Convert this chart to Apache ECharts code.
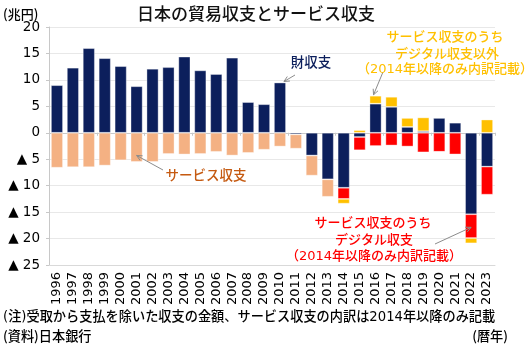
<!DOCTYPE html>
<html>
<head>
<meta charset="utf-8">
<script src="https://cdn.jsdelivr.net/npm/echarts@6/dist/echarts.min.js"></script>
<style>
  html, body { margin: 0; padding: 0; background: #fff; }
  #chart { width: 530px; height: 346px; }
</style>
</head>
<body>
<div id="chart"></div>
<script>
// Japan: goods trade balance and services balance (trillion yen, calendar year)
const years = ['1996','1997','1998','1999','2000','2001','2002','2003','2004','2005',
               '2006','2007','2008','2009','2010','2011','2012','2013','2014','2015',
               '2016','2017','2018','2019','2020','2021','2022','2023'];

// 財収支 (goods balance)
const goodsBalance = [9.0, 12.3, 16.0, 14.1, 12.6, 8.8, 12.1, 12.4, 14.4, 11.8,
                      11.1, 14.2, 5.8, 5.4, 9.5, -0.3, -4.3, -8.8, -10.4, -0.8,
                      5.5, 4.9, 1.1, 0.3, 2.8, 1.9, -15.4, -6.4];

// サービス収支 (total, shown up to 2013)
const servicesBalance = [-6.6, -6.5, -6.5, -6.2, -5.2, -5.5, -5.5, -4.0, -4.1, -4.0,
                         -3.6, -4.3, -3.8, -3.2, -2.6, -2.7, -3.8, -3.3, null, null,
                         null, null, null, null, null, null, null, null];

// サービス収支のうちデジタル収支 (from 2014)
const digitalBalance = [null, null, null, null, null, null, null, null, null, null,
                        null, null, null, null, null, null, null, null, -2.1, -2.5,
                        -2.5, -2.4, -2.6, -3.7, -3.6, -4.1, -4.5, -5.3];

// サービス収支のうちデジタル収支以外 (from 2014)
const otherServicesBalance = [null, null, null, null, null, null, null, null, null, null,
                              null, null, null, null, null, null, null, null, -0.9, 0.5,
                              1.5, 1.9, 1.7, 2.6, 0, 0, -1.0, 2.5];

const yMin = -25, yMax = 20, yStep = 5;

const NUM_FONT = '"DejaVu Sans", "Noto Sans CJK JP", sans-serif';
const JP_FONT = '"Noto Sans CJK JP", "DejaVu Sans", sans-serif';
const JP_WEIGHT = 500;

const C_GOODS = '#0c1f5c';
const C_SERV = '#f4b183';
const C_DIGI = '#ff0000';
const C_OTHER = '#ffc000';

const chart = echarts.init(document.getElementById('chart'), null, { renderer: 'canvas' });

const barItem = (color) => ({ color: color, borderColor: 'rgba(255,255,255,0.45)', borderWidth: 0.8 });

const option = {
  animation: false,
  backgroundColor: '#ffffff',
  grid: { left: 49, right: 35, top: 27, bottom: 81, containLabel: false },
  xAxis: [
    {
      type: 'category',
      data: years,
      position: 'bottom',
      axisLine: { onZero: false, lineStyle: { color: '#d9d9d9', width: 1 } },
      axisTick: { show: false },
      axisLabel: {
        rotate: 90, margin: 7, fontSize: 13, color: '#000',
        fontFamily: NUM_FONT, interval: 0
      }
    },
    {
      type: 'category',
      data: years,
      position: 'bottom',
      axisLine: { onZero: true, onZeroAxisIndex: 0, lineStyle: { color: '#c8c8c8', width: 1 } },
      axisTick: { show: true, length: 3, lineStyle: { color: '#c8c8c8' } },
      axisLabel: { show: false },
      splitLine: { show: false }
    }
  ],
  yAxis: {
    type: 'value',
    min: yMin, max: yMax, interval: yStep,
    axisLine: { show: true, lineStyle: { color: '#c8c8c8' } },
    axisTick: { show: true, length: 3, lineStyle: { color: '#c8c8c8' } },
    axisLabel: {
      margin: 9, fontSize: 13.5, color: '#000', fontFamily: NUM_FONT,
      formatter: (v) => (v < 0 ? '▲ ' + (-v) : String(v))
    },
    splitLine: { show: true, lineStyle: { color: '#e8e8e8', width: 1 } }
  },
  series: [
    { name: '財収支', type: 'bar', stack: 'bal', xAxisIndex: 0, data: goodsBalance,
      barWidth: 12, itemStyle: barItem(C_GOODS) },
    { name: 'サービス収支', type: 'bar', stack: 'bal', xAxisIndex: 0, data: servicesBalance,
      barWidth: 12, itemStyle: barItem(C_SERV) },
    { name: 'デジタル収支', type: 'bar', stack: 'bal', xAxisIndex: 0, data: digitalBalance,
      barWidth: 12, itemStyle: barItem(C_DIGI) },
    { name: 'デジタル収支以外', type: 'bar', stack: 'bal', xAxisIndex: 0, data: otherServicesBalance,
      barWidth: 12, itemStyle: barItem(C_OTHER) }
  ]
};

chart.setOption(option);

// Leader lines with open arrowheads, pointing at the bars they describe
function arrow(from, to) {
  const dx = to[0] - from[0], dy = to[1] - from[1];
  const ang = Math.atan2(dy, dx);
  const len = 6, spread = 0.45;
  const p1 = [to[0] - len * Math.cos(ang - spread), to[1] - len * Math.sin(ang - spread)];
  const p2 = [to[0] - len * Math.cos(ang + spread), to[1] - len * Math.sin(ang + spread)];
  const style = { stroke: '#8c8c8c', lineWidth: 1, fill: null };
  return [
    { type: 'line', shape: { x1: from[0], y1: from[1], x2: to[0], y2: to[1] }, style: style, z: 50 },
    { type: 'polyline', shape: { points: [p1, to, p2] }, style: style, z: 50 }
  ];
}

function px(yearIdx, value) {
  return chart.convertToPixel({ xAxisIndex: 0, yAxisIndex: 0 }, [yearIdx, value]);
}

// Text helper; lines with figures use the wider numeral face first
function txt(x, y, text, color, size, align, font) {
  return {
    type: 'text', x: x, y: y, z: 60,
    style: {
      text: text, fill: color, fontSize: size, fontFamily: font || JP_FONT, fontWeight: JP_WEIGHT,
      align: align || 'center', verticalAlign: 'middle'
    }
  };
}

const i2010 = years.indexOf('2010');
const i2001 = years.indexOf('2001');
const i2016 = years.indexOf('2016');
const i2022 = years.indexOf('2022');

const goodsTip = px(i2010, goodsBalance[i2010]);
const servTip = px(i2001, servicesBalance[i2001] * 0.78);
const otherTip = px(i2016, goodsBalance[i2016] + otherServicesBalance[i2016]);
const digiTip = px(i2022, goodsBalance[i2022] + digitalBalance[i2022] * 0.55);

const graphics = [].concat(
  [
    txt(256, 14, '日本の貿易収支とサービス収支', '#111', 17),
    txt(3, 14, '(兆円)', '#000', 13, 'left'),
    txt(311, 62, '財収支', C_GOODS, 13.5),
    txt(206, 175, 'サービス収支', '#c55a11', 13.5),
    txt(445, 36, 'サービス収支のうち', C_OTHER, 13),
    txt(447, 53, 'デジタル収支以外', C_OTHER, 13),
    txt(445, 70, '（2014年以降のみ内訳記載）', C_OTHER, 13, 'center', NUM_FONT),
    txt(373, 222, 'サービス収支のうち', C_DIGI, 13),
    txt(374, 239, 'デジタル収支', C_DIGI, 13),
    txt(374, 257, '（2014年以降のみ内訳記載）', C_DIGI, 13, 'center', NUM_FONT),
    txt(3, 318, '(注)受取から支払を除いた収支の金額、サービス収支の内訳は2014年以降のみ記載', '#000', 13.2, 'left', NUM_FONT),
    txt(3, 336, '(資料)日本銀行', '#000', 13.2, 'left'),
    txt(508, 336, '(暦年)', '#000', 13.2, 'right')
  ],
  arrow([295, 75], [goodsTip[0] + 4, goodsTip[1] - 1]),
  arrow([163, 170], servTip),
  arrow([383, 72], [otherTip[0] - 2, otherTip[1] - 1]),
  arrow([435, 244], digiTip)
);

chart.setOption({ graphic: graphics });
</script>
</body>
</html>
